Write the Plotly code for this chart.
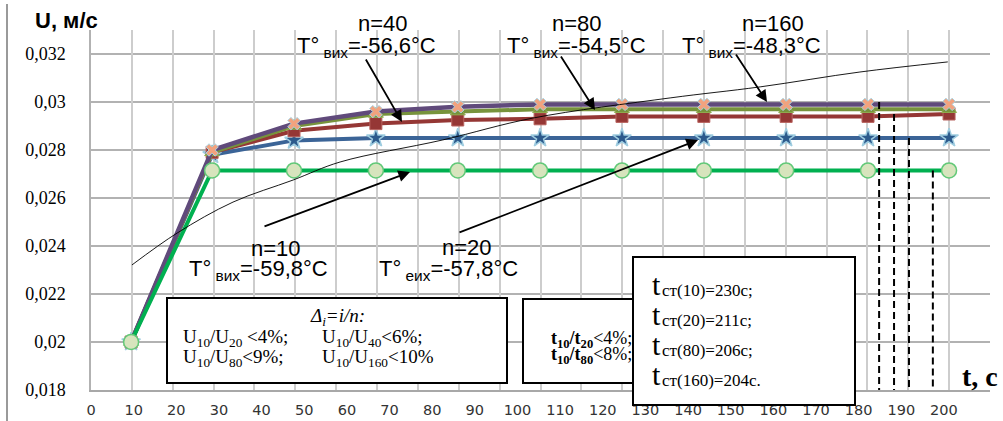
import plotly.graph_objects as go

# ---------------- data ----------------
t = [9.4, 28.4, 47.6, 66.8, 86.0, 105.3, 124.5, 143.7, 163.0, 182.2, 201.2]
u_n10 = [0.0200, 0.02715, 0.02715, 0.02715, 0.02715, 0.02715, 0.02715, 0.02715, 0.02715, 0.02715, 0.02715]
u_n20 = [0.0200, 0.0278, 0.0284, 0.0285, 0.0285, 0.0285, 0.0285, 0.0285, 0.0285, 0.0285, 0.0285]
u_n40 = [0.0200, 0.0279, 0.0288, 0.0291, 0.02925, 0.0293, 0.0294, 0.0294, 0.0294, 0.0294, 0.0295]
u_n80 = [0.0200, 0.0279, 0.0290, 0.02950, 0.0296, 0.0297, 0.0297, 0.0297, 0.0297, 0.0297, 0.0297]
u_n160 = [0.0200, 0.0280, 0.0291, 0.02960, 0.0298, 0.0299, 0.0299, 0.0299, 0.0299, 0.0299, 0.0299]

trend_t = [9.6, 20.2, 33.3, 47.4, 58.4, 82.5, 103.6, 135.8, 156.9, 180.3, 200.9]
trend_u = [0.02321, 0.02454, 0.02583, 0.02675, 0.02750, 0.02842, 0.02933, 0.03017, 0.03063, 0.03125, 0.03167]

t_steady = [184.8, 188.3, 191.8, 197.4]
u_steady = [0.0300, 0.0295, 0.0285, 0.02715]

x_ticks = list(range(0, 201, 10))
y_ticks = [0.018, 0.020, 0.022, 0.024, 0.026, 0.028, 0.030, 0.032]
y_ticktext = ["0,018", "0,02", "0,022", "0,024", "0,026", "0,028", "0,03", "0,032"]

labels_n = ["n=10", "n=20", "n=40", "n=80", "n=160"]
labels_T = ["T°<sub> вих</sub>=-59,8°C", "T°<sub> еих</sub>=-57,8°C", "T°<sub> вих</sub>=-56,6°C",
            "T°<sub> вих</sub>=-54,5°C", "T°<sub> вих</sub>=-48,3°C"]
steady_text = ["ст(10)=230с;", "ст(20)=211с;", "ст(80)=206с;", "ст(160)=204с."]

# ---------------- layout helpers (pixel -> paper) ----------------
L, R, T, B = 91, 990, 30, 390
def PX(x):
    return (x - L) / (R - L)
def PY(y):
    return (B - y) / (B - T)

fig = go.Figure()

# invisible trace to create the grid axis
fig.add_trace(go.Scatter(x=[], y=[], xaxis="x2", yaxis="y", showlegend=False, hoverinfo="skip"))

series = [
    (u_n20, "#3b6497", dict(symbol="star", size=14, color="#2c5a8c", line=dict(color="#9fcde0", width=1.5))),
    (u_n40, "#953735", dict(symbol="square", size=12, color="#953735", line=dict(color="#b8635f", width=1))),
    (u_n80, "#77933c", dict(symbol="triangle-up", size=13, color="#77933c", line=dict(color="#8fae50", width=1))),
    (u_n160, "#604a7b", dict(symbol="x", size=11, color="#f2a27e", line=dict(color="#a9d4e3", width=1))),
    (u_n10, "#00b050", dict(symbol="circle", size=15, color="#d7e4bd", line=dict(color="#62c978", width=1.5))),
]
for ys, col, mk in series:
    fig.add_trace(go.Scatter(x=t, y=ys, mode="lines+markers",
                             line=dict(color=col, width=4.5 if col == "#604a7b" else 4),
                             marker=mk, showlegend=False, hoverinfo="skip"))

# trend curve
fig.add_trace(go.Scatter(x=trend_t, y=trend_u, mode="lines", line=dict(color="black", width=0.9, shape="spline"),
                         showlegend=False, hoverinfo="skip"))

# vertical dashed lines (steady state)
vx, vy = [], []
for xs, ys in zip(t_steady, u_steady):
    vx += [xs, xs, None]
    vy += [ys, 0.018, None]
fig.add_trace(go.Scatter(x=vx, y=vy, mode="lines", line=dict(color="black", width=2, dash="7px,4px"),
                         showlegend=False, hoverinfo="skip"))

ann = []
shapes = []

# outer left frame line
shapes.append(dict(type="line", xref="paper", yref="paper", x0=PX(7), x1=PX(7), y0=PY(4), y1=PY(421),
                   line=dict(color="#9a9a9a", width=2)))

# axis titles
ann.append(dict(text="<b>U, м/с</b>", xref="paper", yref="paper", x=PX(33), y=PY(20), xanchor="left",
                yanchor="middle", showarrow=False, font=dict(family="Liberation Sans", size=22, color="black")))
ann.append(dict(text="<b>t, c</b>", xref="paper", yref="paper", x=PX(960), y=PY(376), xanchor="left",
                yanchor="middle", showarrow=False, font=dict(family="Liberation Serif", size=28, color="black")))

# n / T labels
n_pos = [(276, 248), (467, 247), (383, 23), (577, 23), (773, 23)]
T_pos = [(187, 270), (377, 270), (295, 47), (505, 47), (680, 47)]
for lab, (x, y) in zip(labels_n, n_pos):
    ann.append(dict(text=lab, xref="paper", yref="paper", x=PX(x), y=PY(y), xanchor="center", yanchor="middle",
                    showarrow=False, font=dict(family="Liberation Sans", size=22, color="black")))
for lab, (x, y) in zip(labels_T, T_pos):
    ann.append(dict(text=lab, xref="paper", yref="paper", x=PX(x), y=PY(y), xanchor="left", yanchor="middle",
                    showarrow=False, font=dict(family="Liberation Sans", size=22, color="black")))

# arrows (tail -> tip), pixel positions
arrows = [((263, 227), (410, 172)), ((458, 233), (698, 140)), ((365, 58), (402, 122)),
          ((560, 55), (595, 110)), ((735, 53), (767, 102))]
for (tx, ty), (hx, hy) in arrows:
    ann.append(dict(text="", xref="paper", yref="paper", axref="pixel", ayref="pixel",
                    x=PX(hx), y=PY(hy), ax=tx - hx, ay=ty - hy, showarrow=True, arrowhead=2,
                    arrowsize=1.3, arrowwidth=1.8, arrowcolor="black", standoff=0))

# box 1
shapes.append(dict(type="rect", xref="paper", yref="paper", x0=PX(167), x1=PX(507), y0=PY(383), y1=PY(298),
                   line=dict(color="black", width=2), fillcolor="white", layer="above"))
sf = dict(family="Liberation Serif", size=19, color="black")
ann.append(dict(text="<i>Δ<sub>i</sub>=i/n:</i>", xref="paper", yref="paper", x=PX(337), y=PY(317),
                xanchor="center", yanchor="middle", showarrow=False, font=sf))
box1 = [("U<sub>10</sub>/U<sub>20</sub> &lt;4%;", 181, 338), ("U<sub>10</sub>/U<sub>40</sub>&lt;6%;", 320, 338),
        ("U<sub>10</sub>/U<sub>80</sub>&lt;9%;", 181, 358), ("U<sub>10</sub>/U<sub>160</sub>&lt;10%", 320, 358)]
for txt, x, y in box1:
    ann.append(dict(text=txt, xref="paper", yref="paper", x=PX(x), y=PY(y), xanchor="left", yanchor="middle",
                    showarrow=False, font=sf))

# box 2 (partly hidden)
shapes.append(dict(type="rect", xref="paper", yref="paper", x0=PX(523), x1=PX(800), y0=PY(383), y1=PY(299),
                   line=dict(color="black", width=2), fillcolor="white", layer="above"))
for txt, y in [("<b>t<sub>10</sub>/t<sub>20</sub></b>&lt;4%;", 339), ("<b>t<sub>10</sub>/t<sub>80</sub></b>&lt;8%;", 355)]:
    ann.append(dict(text=txt, xref="paper", yref="paper", x=PX(549), y=PY(y), xanchor="left", yanchor="middle",
                    showarrow=False, font=dict(family="Liberation Serif", size=18, color="black")))

# box 3 (on top)
ann.append(dict(text=" ", xref="paper", yref="paper", x=PX(632), y=PY(256), xanchor="left", yanchor="top",
                width=220, height=146, bgcolor="white", bordercolor="black", borderwidth=2, borderpad=0,
                showarrow=False))
for i, txt in enumerate(steady_text):
    ann.append(dict(text="t", xref="paper", yref="paper",
                    x=PX(650), y=PY(284 + 30 * i), xanchor="left", yanchor="middle", showarrow=False,
                    font=dict(family="Liberation Serif", size=30, color="black")))
    ann.append(dict(text=txt, xref="paper", yref="paper",
                    x=PX(660), y=PY(290 + 30 * i), xanchor="left", yanchor="middle", showarrow=False,
                    font=dict(family="Liberation Serif", size=17, color="black")))

fig.update_layout(
    width=1003, height=421,
    margin=dict(l=L, r=1003 - R, t=T, b=421 - B, autoexpand=False),
    paper_bgcolor="white", plot_bgcolor="white",
    showlegend=False,
    xaxis=dict(range=[0, 210.8], tickvals=x_ticks, showgrid=False, zeroline=False, automargin=False,
               showline=True, linecolor="#a8a8a8", linewidth=1.5, ticks="",
               tickfont=dict(family="DejaVu Sans", size=14.5, color="#333333"), ticklabelstandoff=6),
    xaxis2=dict(overlaying="x", anchor="y", range=[0, 22], dtick=1, showgrid=True, gridcolor="#cdcdcd",
                gridwidth=1.5, showticklabels=False, zeroline=False, ticks="", automargin=False),
    yaxis=dict(range=[0.018, 0.033], tickvals=y_ticks, ticktext=y_ticktext, showgrid=True, automargin=False,
               gridcolor="#b2b2b2", gridwidth=1.5, zeroline=False, showline=True, linecolor="#b2b2b2",
               linewidth=1.5, ticks="", ticklabelstandoff=20,
               tickfont=dict(family="Liberation Serif", size=18, color="black")),
    annotations=ann, shapes=shapes,
)

fig.write_html("out.html", config={"displayModeBar": False},
               post_script="document.body.style.margin='0';document.body.style.overflow='hidden';")
